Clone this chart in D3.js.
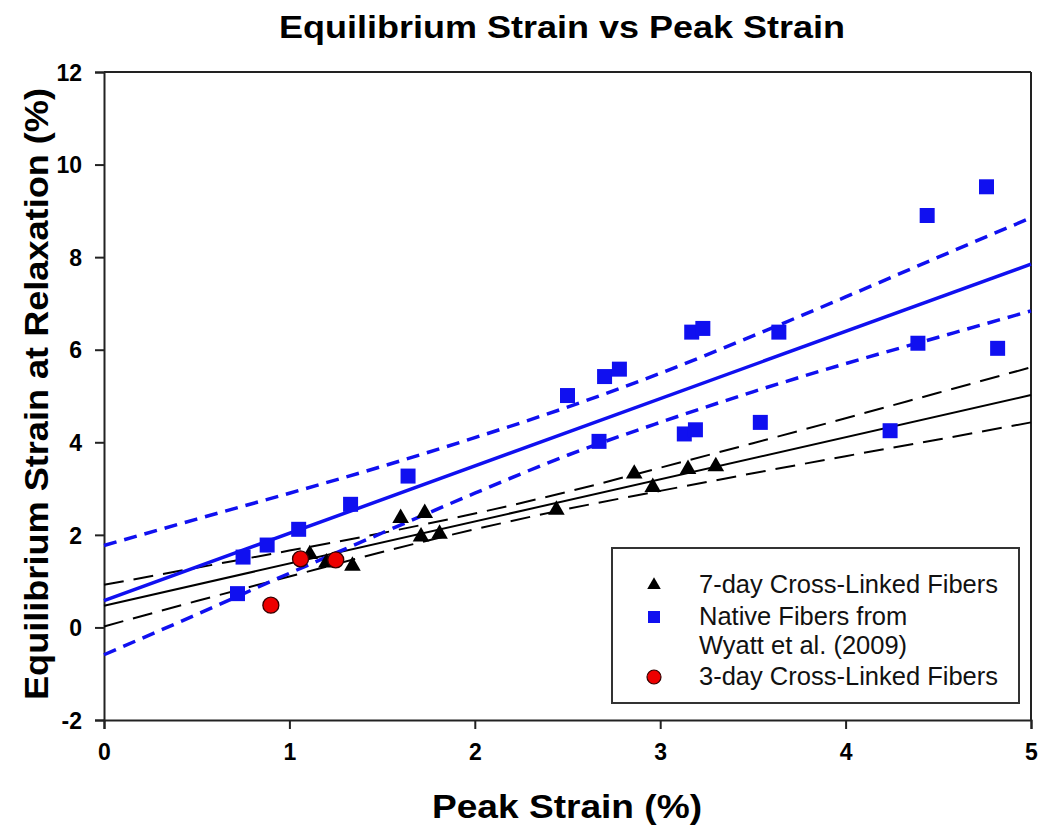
<!DOCTYPE html>
<html>
<head>
<meta charset="utf-8">
<script src="https://cdn.jsdelivr.net/npm/d3@7"></script>
<style>
  html, body { margin: 0; padding: 0; background: #fff; }
  svg { display: block; font-family: "Liberation Sans", Arial, sans-serif; }
</style>
</head>
<body>
<svg id="chart" width="1050" height="830"></svg>
<script>
// ---------------- DATA ----------------
const title = "Equilibrium Strain vs Peak Strain";
const xLabel = "Peak Strain (%)";
const yLabel = "Equilibrium Strain at Relaxation (%)";
const xTicks = [0, 1, 2, 3, 4, 5];
const yTicks = [-2, 0, 2, 4, 6, 8, 10, 12];

// 7-day cross-linked fibers (triangles)
const sevenDayX = [1.11, 1.20, 1.34, 1.60, 1.71, 1.73, 1.81, 2.44, 2.86, 2.96, 3.15, 3.30];
const sevenDayY = [1.58, 1.40, 1.33, 2.36, 1.96, 2.47, 2.02, 2.54, 3.32, 3.03, 3.42, 3.48];

// Native fibers from Wyatt et al. (2009) (squares)
const nativeX = [0.72, 0.75, 0.88, 1.05, 1.33, 1.64, 2.50, 2.67, 2.70, 2.78, 3.13, 3.17, 3.19, 3.23, 3.54, 3.64, 4.24, 4.39, 4.44, 4.76, 4.82];
const nativeY = [0.73, 1.52, 1.78, 2.12, 2.66, 3.27, 5.01, 4.02, 5.42, 5.58, 4.18, 6.38, 4.27, 6.46, 4.43, 6.38, 4.25, 6.14, 8.90, 9.52, 6.03];

// 3-day cross-linked fibers (circles)
const threeDayX = [0.90, 1.06, 1.25];
const threeDayY = [0.48, 1.48, 1.46];

// regression lines (read at x = 0 and x = 5)
const fitX = [0, 5];
const blueFitY = [0.58, 7.85];
const blackFitY = [0.47, 5.02];

// confidence bands read along x
const bandX = [0, 0.5, 1, 1.5, 2, 2.5, 3, 3.5, 4, 4.5, 5];
const blueUpperY = [1.77, 2.34, 2.90, 3.48, 4.10, 4.76, 5.49, 6.30, 7.14, 8.00, 8.85];
const blueLowerY = [-0.59, 0.28, 1.17, 2.04, 2.90, 3.72, 4.43, 5.09, 5.70, 6.27, 6.84];
const blackUpperY = [0.92, 1.29, 1.66, 2.04, 2.46, 2.93, 3.45, 3.98, 4.52, 5.07, 5.62];
const blackLowerY = [0.02, 0.57, 1.10, 1.63, 2.12, 2.56, 2.95, 3.33, 3.70, 4.06, 4.43];

const legendLabels = [["7-day Cross-Linked Fibers"], ["Native Fibers from", "Wyatt et al. (2009)"], ["3-day Cross-Linked Fibers"]];

// ---------------- DRAW ----------------
const svg = d3.select("#chart");
const mLeft = 104, mRight = 1031, mTop = 72, mBottom = 720;
const x = d3.scaleLinear().domain([0, 5]).range([mLeft, mRight]);
const y = d3.scaleLinear().domain([-2, 12]).range([mBottom, mTop]);

const blue = "#1010f0";
const axisColor = "#222";

// frame top/right
svg.append("line").attr("x1", mLeft).attr("x2", mRight).attr("y1", mTop).attr("y2", mTop)
  .attr("stroke", axisColor).attr("stroke-width", 2);
svg.append("line").attr("x1", mRight).attr("x2", mRight).attr("y1", mTop).attr("y2", mBottom)
  .attr("stroke", axisColor).attr("stroke-width", 2);

// axes
const fmt = d => String(d);
const xAxis = svg.append("g").attr("transform", `translate(0,${mBottom})`)
  .call(d3.axisBottom(x).tickValues(xTicks).tickSize(9).tickPadding(15).tickFormat(fmt));
const yAxis = svg.append("g").attr("transform", `translate(${mLeft},0)`)
  .call(d3.axisLeft(y).tickValues(yTicks).tickSize(9).tickPadding(13).tickFormat(fmt));
[xAxis, yAxis].forEach(g => {
  g.select(".domain").attr("stroke", axisColor).attr("stroke-width", 2);
  g.selectAll(".tick line").attr("stroke", axisColor).attr("stroke-width", 2);
  g.selectAll(".tick text").attr("fill", "#000").attr("font-size", 23).attr("font-weight", "bold")
    .attr("font-family", "Liberation Sans, Arial, sans-serif");
});
yAxis.selectAll(".tick text").attr("dy", "0.36em");

// lines
const line = d3.line().x(d => x(d[0])).y(d => y(d[1]));
const curved = d3.line().curve(d3.curveMonotoneX).x(d => x(d[0])).y(d => y(d[1]));
const zip = (xs, ys) => xs.map((v, i) => [v, ys[i]]);
const plot = svg.append("g");

plot.append("path").attr("d", line(zip(fitX, blackFitY))).attr("fill", "none")
  .attr("stroke", "#000").attr("stroke-width", 2);
[blackUpperY, blackLowerY].forEach(arr => {
  plot.append("path").attr("d", curved(zip(bandX, arr))).attr("fill", "none")
    .attr("stroke", "#000").attr("stroke-width", 2).attr("stroke-dasharray", "20,10");
});
plot.append("path").attr("d", line(zip(fitX, blueFitY))).attr("fill", "none")
  .attr("stroke", blue).attr("stroke-width", 3.5);
[blueUpperY, blueLowerY].forEach(arr => {
  plot.append("path").attr("d", curved(zip(bandX, arr))).attr("fill", "none")
    .attr("stroke", blue).attr("stroke-width", 3.5).attr("stroke-dasharray", "13,8");
});

// markers
const tri = d3.symbol().type(d3.symbolTriangle).size(120);
const sq = d3.symbol().type(d3.symbolSquare).size(225);
plot.selectAll("path.tri").data(zip(sevenDayX, sevenDayY)).join("path").attr("class", "tri")
  .attr("d", tri).attr("transform", d => `translate(${x(d[0])},${y(d[1])})`).attr("fill", "#000");
plot.selectAll("path.sq").data(zip(nativeX, nativeY)).join("path").attr("class", "sq")
  .attr("d", sq).attr("transform", d => `translate(${x(d[0])},${y(d[1])})`).attr("fill", blue);
plot.selectAll("circle.c").data(zip(threeDayX, threeDayY)).join("circle").attr("class", "c")
  .attr("cx", d => x(d[0])).attr("cy", d => y(d[1])).attr("r", 8)
  .attr("fill", "#ee0000").attr("stroke", "#300").attr("stroke-width", 1.3);

// legend
const lg = svg.append("g");
lg.append("rect").attr("x", 612).attr("y", 548).attr("width", 407).attr("height", 155)
  .attr("fill", "#fff").attr("stroke", "#333").attr("stroke-width", 2);
const lx = 654, tx = 699;
const rowY = [[593], [625, 654], [685]];
legendLabels.forEach((lines, i) => {
  lines.forEach((t, j) => {
    lg.append("text").attr("x", tx).attr("y", rowY[i][j]).text(t)
      .attr("font-size", 25.5).attr("fill", "#111");
  });
});
lg.append("path").attr("d", d3.symbol().type(d3.symbolTriangle).size(80))
  .attr("transform", `translate(${lx},585)`).attr("fill", "#000");
lg.append("path").attr("d", d3.symbol().type(d3.symbolSquare).size(144))
  .attr("transform", `translate(${lx},617)`).attr("fill", blue);
lg.append("circle").attr("cx", lx).attr("cy", 677).attr("r", 7)
  .attr("fill", "#ee0000").attr("stroke", "#300").attr("stroke-width", 1.2);

// titles
svg.append("text").attr("x", 562).attr("y", 38).attr("text-anchor", "middle")
  .attr("font-size", 31).attr("font-weight", "bold")
  .attr("textLength", 566).attr("lengthAdjust", "spacingAndGlyphs").text(title);
svg.append("text").attr("x", 567).attr("y", 818).attr("text-anchor", "middle")
  .attr("font-size", 33).attr("font-weight", "bold")
  .attr("textLength", 270).attr("lengthAdjust", "spacingAndGlyphs").text(xLabel);
svg.append("text").attr("transform", "translate(48,394) rotate(-90)").attr("text-anchor", "middle")
  .attr("font-size", 33).attr("font-weight", "bold")
  .attr("textLength", 612).attr("lengthAdjust", "spacingAndGlyphs").text(yLabel);
</script>
</body>
</html>
